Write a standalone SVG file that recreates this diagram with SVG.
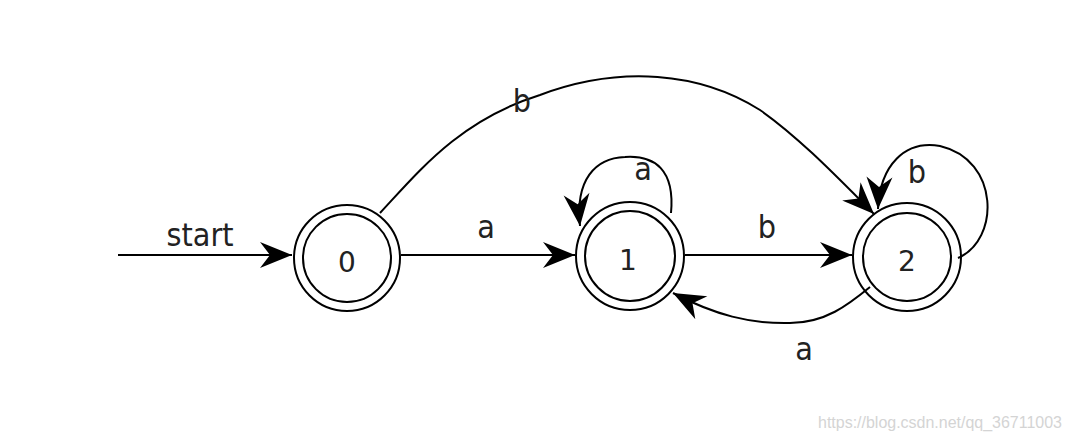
<svg xmlns="http://www.w3.org/2000/svg" width="1071" height="440" viewBox="0 0 1071 440">
<style>
.ring{fill:none;stroke:#000;stroke-width:2}
.edge{fill:none;stroke:#000;stroke-width:2}
.num{font-family:"DejaVu Sans",sans-serif;font-size:28px;text-anchor:middle;fill:#222}
.lbl{font-family:"DejaVu Sans Condensed","DejaVu Sans",sans-serif;font-size:32px;text-anchor:middle;fill:#222}
.wm{font-family:"Liberation Sans",Arial,sans-serif;font-size:16px;fill:#d4d4d4;text-anchor:end}
</style>
<defs>
<marker id="arr" markerUnits="userSpaceOnUse" markerWidth="40" markerHeight="40" viewBox="-34 -20 40 40" refX="0" refY="0" orient="auto">
<path d="M0,0 L-32,-13 L-22,0 L-32,13 Z" fill="#000"/>
</marker>
</defs>
<rect width="1071" height="440" fill="#fff"/>
<g id="connectors">
<path class="edge" d="M118,255 L292,255" marker-end="url(#arr)"/>
<path class="edge" d="M401,255 L575,255" marker-end="url(#arr)"/>
<path class="edge" d="M685,255 L852,255" marker-end="url(#arr)"/>
<path class="edge" d="M870,287 C848,305 825,323 790,323 C750,324 715,315 673,293" marker-end="url(#arr)"/>
<path class="edge" d="M380,213 C420,170 460,120 540,95 C620,65 700,72 760,110 C800,138 840,180 874,214" marker-end="url(#arr)"/>
<path class="edge" d="M671,213 C675,170 655,155 625,157 C595,158 575,180 580,226" marker-end="url(#arr)"/>
<path class="edge" d="M958,258 C1000,240 1000,160 940,146 C905,140 880,165 878,209" marker-end="url(#arr)"/>
<text class="lbl" x="200" y="246">start</text>
<text class="lbl" x="486" y="238">a</text>
<text class="lbl" x="767" y="238">b</text>
<text class="lbl" x="804" y="360">a</text>
<text class="lbl" x="522" y="112">b</text>
<text class="lbl" x="643" y="180">a</text>
<text class="lbl" x="917" y="183">b</text>
</g>
<g id="node0">
<circle class="ring" cx="347" cy="258" r="53"/>
<circle class="ring" cx="347" cy="258" r="44"/>
<text class="num" x="347" y="272">0</text>
</g>
<g id="node1">
<circle class="ring" cx="630" cy="256" r="54"/>
<circle class="ring" cx="630" cy="256" r="45"/>
<text class="num" x="628" y="270">1</text>
</g>
<g id="node2">
<circle class="ring" cx="907" cy="257" r="54"/>
<circle class="ring" cx="907" cy="257" r="44"/>
<text class="num" x="907" y="271">2</text>
</g>
<text class="wm" x="1062" y="428" textLength="244" lengthAdjust="spacingAndGlyphs">https://blog.csdn.net/qq_36711003</text>
</svg>
